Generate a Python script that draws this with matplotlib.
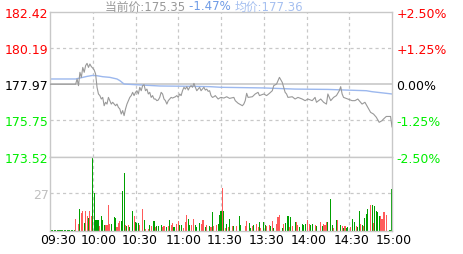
import numpy as np
import matplotlib.pyplot as plt
import matplotlib.transforms as mtransforms

plt.rcParams['font.family'] = ['DejaVu Sans', 'Noto Sans CJK SC']

# minute index 0..240 (11:30 and 13:00 share index 120)
prev_close = 177.97
price_lo, price_hi = 173.52, 182.42
price_ticks = [182.42, 180.19, 177.97, 175.75, 173.52]
pct_labels = ['+2.50%', '+1.25%', '0.00%', '-1.25%', '-2.50%']
time_labels = ['09:30', '10:00', '10:30', '11:00', '11:30', '13:30', '14:00', '14:30', '15:00']
time_ticks = [0, 30, 60, 90, 120, 150, 180, 210, 240]

price_t = [0, 18, 19, 20, 21, 22, 23, 24, 25, 26, 27, 28, 29, 30, 31, 32, 33, 34, 35, 36, 37, 38, 39,
           40, 41, 42, 43, 44, 45, 46, 47, 48, 49, 50, 51, 52, 53, 54, 55, 56, 57, 58, 59, 60, 61, 62,
           63, 64, 65, 66, 67, 68, 69, 70, 71, 72, 73, 74, 75, 76, 77, 78, 79, 80, 81, 82, 83, 84, 85,
           86, 87, 88, 89, 90, 91, 92, 93, 94, 95, 96, 97, 98, 99, 100, 101, 102, 103, 104, 105, 106,
           107, 108, 109, 110, 111, 112, 113, 114, 115, 116, 117, 118, 119, 120,
           122, 124, 126, 129, 130, 132, 135, 136, 137, 138, 139, 142, 144, 146, 147, 150, 152, 154,
           156, 157, 159, 161, 163, 164, 165, 166, 167, 170, 172, 174, 177, 179, 181, 184, 186, 187,
           190, 192, 194, 195, 197, 199, 201, 203, 204, 205, 206, 209, 212, 214, 216, 219, 221, 223,
           225, 227, 229, 231, 233, 234, 236, 239, 240]
price_v = [177.97, 177.97, 178.29, 177.88, 178.70, 178.39, 179.00, 178.70, 179.11, 179.25, 179.00,
           179.21, 179.05, 178.96, 178.84, 178.60, 177.78, 177.37, 177.27, 177.06, 177.16, 176.65,
           176.86, 176.75, 177.16, 176.96, 176.75, 176.86, 176.75, 176.65, 176.75, 176.55, 176.45,
           176.14, 176.35, 176.04, 176.45, 176.75, 176.96, 177.16, 177.27, 177.47, 177.27, 177.47,
           177.57, 177.37, 177.78, 177.57, 177.88, 177.94, 177.57, 177.67, 177.37, 177.47, 177.16,
           177.27, 177.06, 177.06, 176.96, 177.00, 177.16, 177.47, 177.37, 177.06, 176.96, 176.75,
           176.96, 177.06, 177.16, 177.12, 177.16, 177.20, 177.27, 177.16, 177.37, 177.27, 177.57,
           177.78, 177.67, 177.82, 177.61, 177.78, 177.88, 177.78, 178.02, 177.78, 177.57, 177.67,
           177.78, 177.57, 177.67, 177.78, 177.61, 177.67, 177.53, 177.57, 177.27, 177.16, 177.20,
           177.27, 177.16, 177.06, 177.12, 177.16,
           177.12, 177.20, 177.10, 177.16, 176.96, 176.80, 176.65, 176.75, 176.96, 177.41, 177.16,
           177.20, 177.37, 177.47, 177.27, 177.37, 177.27, 177.41, 177.57, 177.88, 177.98, 178.39,
           178.08, 177.78, 177.47, 177.37, 177.16, 177.20, 177.06, 177.16, 177.06, 176.96, 177.06,
           176.96, 177.16, 176.86, 177.06, 176.86, 176.75, 177.37, 176.96, 177.16, 177.27, 177.57,
           177.82, 177.37, 177.16, 177.06, 176.96, 176.96, 177.06, 176.75, 176.86, 176.55, 176.24,
           176.14, 175.94, 175.63, 175.73, 175.83, 175.99, 175.99, 175.35]

avg_t = [0, 18, 21, 26, 30, 33, 37, 42, 47, 49, 52, 60, 77, 100, 112, 120, 150, 172, 195, 208,
         222, 226, 234, 240]
avg_v = [178.29, 178.29, 178.35, 178.45, 178.51, 178.49, 178.43, 178.39, 178.29, 178.19, 177.98,
         177.94, 177.86, 177.84, 177.82, 177.78, 177.74, 177.67, 177.65, 177.61, 177.57, 177.51,
         177.43, 177.37]

vol_t = [1, 2, 3, 4, 5, 6, 7, 8, 9, 10, 11, 12, 13, 14, 15, 16, 17,
         18, 20, 21, 22, 23, 24, 25, 26, 27, 28, 29, 30, 31, 32, 33, 34, 35, 36, 37, 38, 39, 40,
         41, 42, 43, 45, 46, 47, 48, 49, 50, 51, 52, 53, 54, 55, 56, 58, 59, 60, 61, 62, 63, 65,
         66, 67, 69, 70, 71, 73, 74, 75, 76, 78, 79, 80, 82, 83, 84, 85, 86, 87, 89, 90, 91, 92,
         94, 95, 96, 97, 98, 99, 101, 102, 103, 105, 106, 107, 108, 109, 110, 112, 113, 114, 115,
         117, 118, 119, 120, 121, 122, 123, 124, 125, 126, 128, 129, 131, 133, 134, 137, 138, 140,
         141, 142, 143, 145, 146, 147, 148, 150, 151, 152, 154, 155, 156, 157, 159, 160, 161, 163,
         164, 165, 167, 168, 169, 170, 172, 173, 174, 175, 177, 178, 179, 181, 182, 183, 184, 186,
         187, 190, 191, 192, 193, 194, 195, 197, 198, 199, 201, 202, 204, 205, 206, 207, 208, 209,
         211, 212, 214, 215, 216, 217, 218, 219, 220, 221, 222, 223, 225, 226, 227, 228, 229, 230,
         231, 232, 233, 234, 235, 236, 238, 239, 240]
vol_v = [0.6] * 17 + [
         8.4, 4.8, 15.5, 12.7, 14.1, 5.5, 14.1, 10.3, 8.8, 14.1, 10.3, 52.5, 27.0, 7.6, 7.6, 7.6,
         3.6, 10.7, 7.9, 4.3, 4.1, 4.1, 18.4, 5.0, 4.5, 9.8, 9.3, 2.9, 5.5, 6.9, 6.7, 28.4, 41.3,
         4.1, 3.3, 4.1, 2.9, 14.1, 10.3, 6.0, 5.5, 5.5, 4.1, 15.5, 7.6, 1.2, 1.2, 4.1, 3.6, 6.9,
         2.9, 3.3, 3.3, 4.1, 2.9, 3.3, 2.4, 3.3, 7.6, 4.1, 5.3, 2.9, 4.5, 6.9, 4.1, 4.1, 2.1, 6.2,
         11.2, 8.6, 4.1, 4.1, 8.4, 4.1, 2.9, 5.5, 4.8, 7.6, 7.6, 2.4, 4.1, 3.6, 2.4, 13.4, 3.6,
         4.1, 4.5, 11.2, 14.1, 30.6, 14.1, 2.1, 4.5, 2.4, 8.4, 3.1, 3.1, 3.6, 10.5, 4.1, 3.6, 6.9,
         5.7, 1.9, 3.6, 4.1, 4.5, 2.6, 6.0, 2.1, 6.0, 4.1, 3.3, 4.1, 3.3, 7.2, 2.1, 4.5, 10.0,
         11.5, 1.7, 4.5, 5.3, 10.5, 2.9, 10.0, 3.1, 6.0, 6.4, 4.1, 2.9, 4.5, 4.1, 4.5, 7.9, 4.5,
         4.1, 4.5, 4.1, 3.3, 6.4, 3.6, 4.5, 4.1, 6.0, 6.4, 22.7, 4.1, 2.1, 7.9, 7.9, 4.1, 3.6,
         2.1, 3.1, 1.7, 2.4, 2.9, 8.4, 6.0, 3.1, 2.9, 14.1, 4.8, 4.1, 3.6, 8.8, 12.2, 15.5, 18.4,
         18.4, 5.5, 17.4, 14.3, 13.6, 10.7, 10.3, 8.4, 13.4, 13.4, 11.2, 0.7, 0.7, 29.8]
# 1 = up (red), 0 = down (green)
vol_up = [0] * 17 + [
         1, 1, 0, 1, 1, 0, 1, 1, 0, 1, 1, 0, 0, 0, 0, 0,
         1, 0, 0, 0, 1, 1, 1, 1, 0, 0, 0, 1, 1, 1, 0, 0, 0,
         1, 0, 1, 0, 0, 1, 0, 0, 0, 1, 1, 0, 1, 1, 0, 1, 0,
         1, 0, 0, 0, 1, 1, 0, 1, 0, 1, 1, 0, 1, 1, 0, 0, 1, 1,
         1, 0, 0, 1, 1, 0, 0, 0, 1, 1, 1, 0, 1, 0, 1, 0, 1,
         1, 0, 0, 0, 1, 0, 1, 0, 1, 0, 1, 0, 1, 0, 0, 1, 1,
         0, 0, 1, 0, 1, 1, 0, 1, 0, 0, 1, 1, 0, 1, 0, 1, 1,
         1, 0, 1, 0, 0, 1, 0, 1, 0, 1, 1, 0, 0, 0, 0, 1, 1,
         0, 0, 1, 0, 1, 0, 1, 1, 1, 0, 0, 0, 1, 0, 1, 0, 1,
         0, 1, 0, 0, 1, 0, 0, 1, 0, 0, 1, 0, 1, 0, 0, 0, 1,
         0, 1, 0, 0, 0, 0, 1, 1, 1, 1, 1, 0, 0, 0]
vol_max = 53
vol_tick = 27

RED = '#ff0000'
GREEN = '#00ee00'
GRID = '#c8c8c8'

fig = plt.figure(figsize=(4.63, 2.55), dpi=100)
W, H = 463, 255
ax_p = fig.add_axes([50 / W, 1 - 157.7 / H, 342 / W, 145 / H])
ax_v = fig.add_axes([50 / W, 1 - 231.7 / H, 342 / W, 74 / H])

for ax in (ax_p, ax_v):
    ax.set_xlim(0, 240)
    for s in ax.spines.values():
        s.set_color(GRID)
        s.set_linewidth(1)
    for t in time_ticks[1:-1]:
        ax.axvline(t, color=GRID, lw=0.9, ls=(0, (2.5, 2.5)), zorder=0)
    ax.tick_params(length=0)

# price panel
ax_p.set_ylim(price_lo, price_hi)
ax_p.axhline(prev_close, color=GRID, lw=1.2, zorder=1)
for y in (price_ticks[1], price_ticks[3]):
    ax_p.axhline(y, color=GRID, lw=0.9, ls=(0, (2.5, 2.5)), zorder=0)
ax_p.plot(avg_t, avg_v, color='#9cb8ee', lw=1, zorder=2)
ax_p.plot(price_t, price_v, color='#999999', lw=0.8, zorder=3)
ax_p.set_xticks([])
ax_p.set_yticks(price_ticks)
ax_p.set_yticklabels(['%.2f' % v for v in price_ticks], fontsize=9)
ax_p.tick_params(axis='y', pad=1)
lab_colors = [RED, RED, 'black', GREEN, GREEN]
for lab, c in zip(ax_p.get_yticklabels(), lab_colors):
    lab.set_color(c)

ax_r = ax_p.twinx()
ax_r.set_ylim(price_lo, price_hi)
ax_r.set_yticks(price_ticks)
ax_r.set_yticklabels(pct_labels, fontsize=9)
ax_r.tick_params(length=0, pad=3)
for s in ax_r.spines.values():
    s.set_visible(False)
for lab, c in zip(ax_r.get_yticklabels(), lab_colors):
    lab.set_color(c)

# volume panel
ax_v.set_ylim(0, vol_max)
ax_v.axhline(vol_tick, color=GRID, lw=0.9, ls=(0, (2.5, 2.5)), zorder=0)
bar_colors = ['#ff5a5a' if u else '#00a000' for u in vol_up]
ax_v.bar(vol_t, vol_v, width=0.75, color=bar_colors, linewidth=0, zorder=2)
ax_v.set_yticks([vol_tick])
ax_v.set_yticklabels([str(vol_tick)], fontsize=9, color='#c0c0c0')
ax_v.tick_params(axis='y', pad=1)
ax_v.set_xticks(time_ticks)
ax_v.set_xticklabels(time_labels, fontsize=9)
ax_v.tick_params(axis='x', pad=2)
shifts = [8, 6, 4, 5, 4, 3, 2, 2, 2]
for lab, dx in zip(ax_v.get_xticklabels(), shifts):
    lab.set_transform(lab.get_transform() + mtransforms.ScaledTranslation(dx / 100, 0, fig.dpi_scale_trans))

# header
t1 = fig.text(105 / W, 1 - 10.5 / H, '当前价:175.35 ', fontsize=8.5, color='#999999', va='baseline')
t2 = fig.text(0, 0, '-1.47% ', fontsize=8.5, color='#6e9be6', va='baseline')
t3 = fig.text(0, 0, '均价:177.36', fontsize=8.5, color='#a6c0f0', va='baseline')
fig.canvas.draw()
r = fig.canvas.get_renderer()
b1 = t1.get_window_extent(r)
t2.set_position((b1.x1 / fig.bbox.width, 1 - 10.5 / H))
b2 = t2.get_window_extent(r)
t3.set_position((b2.x1 / fig.bbox.width, 1 - 10.5 / H))

fig.savefig('out.png', dpi=100)
